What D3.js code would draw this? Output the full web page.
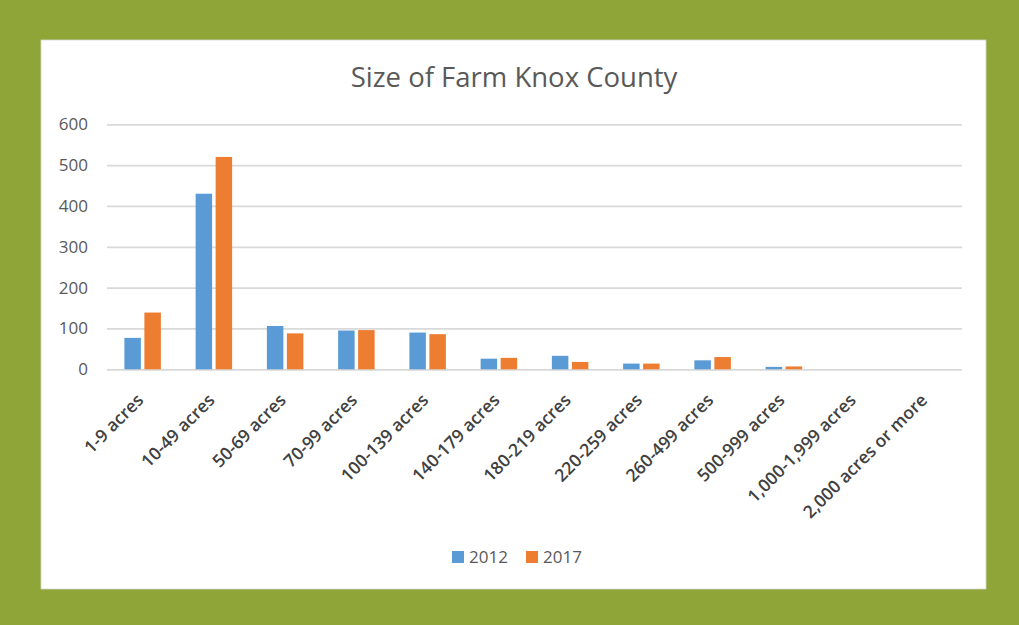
<!DOCTYPE html>
<html>
<head>
<meta charset="utf-8">
<script src="https://cdn.jsdelivr.net/npm/d3@7"></script>
<style>
  html, body { margin: 0; padding: 0; background: #90a537; }
  svg { display: block; }
</style>
</head>
<body>
<svg id="chart" width="1019" height="625"></svg>
<script>
// Farm size classes and counts of farms per census year
const categories = [
  "1-9 acres", "10-49 acres", "50-69 acres", "70-99 acres", "100-139 acres",
  "140-179 acres", "180-219 acres", "220-259 acres", "260-499 acres",
  "500-999 acres", "1,000-1,999 acres", "2,000 acres or more"
];
const seriesNames = ["2012", "2017"];
const values2012 = [77, 430, 106, 95, 90, 26, 33, 14, 22, 6, 0, 0];
const values2017 = [139, 520, 88, 96, 86, 28, 18, 14, 30, 7, 0, 0];
const yTicks = [0, 100, 200, 300, 400, 500, 600];
const colors = ["#5b9bd5", "#ed7d31"];

const svg = d3.select("#chart");
const W = 1019, H = 625;

// green frame with white chart panel
svg.append("rect").attr("x", 0).attr("y", 0).attr("width", W).attr("height", H).attr("fill", "#90a537");
svg.append("rect").attr("x", 41).attr("y", 40).attr("width", 945).attr("height", 549)
  .attr("fill", "#ffffff").attr("stroke", "#d4d4d4").attr("stroke-width", 0.8);

const plot = { left: 107, right: 962, top: 124.3, bottom: 369.3 };

const x = d3.scaleBand().domain(categories).range([plot.left, plot.right]).paddingInner(0).paddingOuter(0);
const y = d3.scaleLinear().domain([0, 600]).range([plot.bottom, plot.top]);

const font = "'Open Sans', 'Segoe UI', sans-serif";

// title
svg.append("text")
  .attr("x", 514).attr("y", 87)
  .attr("text-anchor", "middle")
  .attr("font-family", font).attr("font-size", 27.5)
  .attr("fill", "#595959")
  .text("Size of Farm Knox County");

// horizontal gridlines and y labels
const yAxis = d3.axisLeft(y).tickValues(yTicks).tickSize(-(plot.right - plot.left)).tickPadding(19);
const gy = svg.append("g").attr("transform", `translate(${plot.left},0)`).call(yAxis);
gy.select(".domain").remove();
gy.selectAll(".tick line").attr("stroke", "#d9d9d9").attr("stroke-width", 1.8);
gy.selectAll(".tick text")
  .attr("font-family", font).attr("font-size", 17).attr("fill", "#595959");

// grouped bars
const barW = 16.5, innerGap = 3.5;
const rows = categories.map((c, i) => ({ cat: c, vals: [values2012[i], values2017[i]] }));
const groups = svg.append("g").selectAll("g").data(rows).join("g")
  .attr("transform", d => `translate(${x(d.cat) + x.bandwidth() / 2},0)`);
groups.selectAll("rect").data(d => d.vals.map((v, k) => ({ v, k }))).join("rect")
  .attr("x", d => d.k === 0 ? -(barW + innerGap / 2) : innerGap / 2)
  .attr("width", barW)
  .attr("y", d => y(d.v))
  .attr("height", d => y(0) - y(d.v))
  .attr("fill", d => colors[d.k]);

// category labels rotated -45°
const gx = svg.append("g").attr("transform", `translate(0,${plot.bottom})`)
  .call(d3.axisBottom(x).tickSize(0).tickPadding(0));
gx.select(".domain").remove();
gx.selectAll(".tick text")
  .attr("font-family", font).attr("font-size", 17.5).attr("font-weight", 600)
  .attr("fill", "#404040")
  .attr("text-anchor", "end")
  .attr("dy", 0)
  .attr("transform", "translate(2,32) rotate(-45)");

// legend
const legend = svg.append("g").attr("transform", "translate(452,551)");
const legendX = [0, 74];
seriesNames.forEach((name, i) => {
  const g = legend.append("g").attr("transform", `translate(${legendX[i]},0)`);
  g.append("rect").attr("width", 12).attr("height", 12).attr("fill", colors[i]);
  g.append("text").attr("x", 17).attr("y", 12)
    .attr("font-family", font).attr("font-size", 17).attr("fill", "#595959")
    .text(name);
});
</script>
</body>
</html>
